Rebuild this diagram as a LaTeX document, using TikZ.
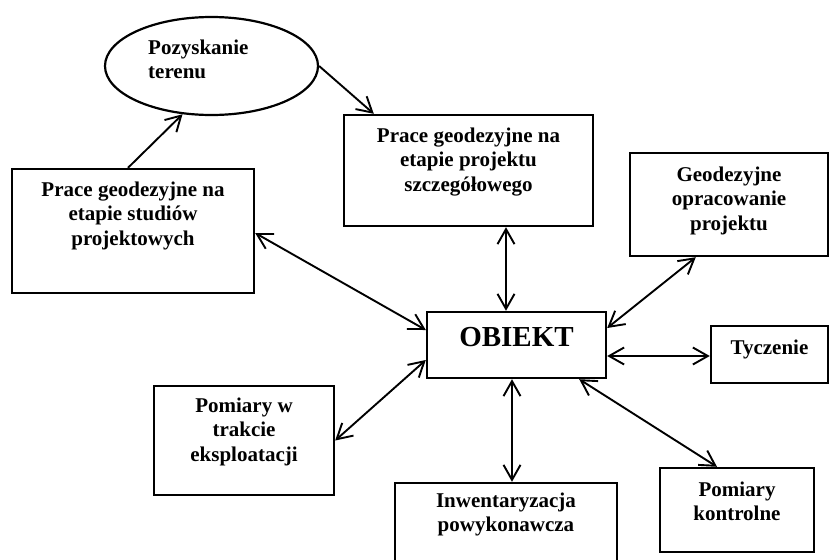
\documentclass[tikz,border=0pt]{standalone}
\usepackage{fontspec}
\setmainfont{Liberation Serif}
\usetikzlibrary{shapes.geometric, arrows.meta}

\begin{document}
\begin{tikzpicture}[
    x=1pt, y=-1pt,
    box/.style={draw, rectangle, line width=2.4pt, inner sep=0pt},
    bubble/.style={draw, ellipse, line width=2.2pt, inner sep=0pt, minimum width=213pt, minimum height=98pt},
    boxtext/.style={anchor=north, align=center, inner sep=0pt, font=\fontsize{21}{24.5}\selectfont\bfseries},
    bigtext/.style={boxtext, font=\fontsize{29}{34}\selectfont\bfseries},
    arrow/.style={-{Straight Barb[length=15pt, width=17pt]}, line width=1.9pt},
    biarrow/.style={{Straight Barb[length=15pt, width=17pt]}-{Straight Barb[length=15pt, width=17pt]}, line width=1.9pt}
]
    \useasboundingbox (0,0) rectangle (831,560);

    % Pozyskanie terenu
    \node[bubble, label={[boxtext, anchor=north west, align=left, xshift=-63.5pt, yshift=-23.8pt]north:{Pozyskanie\\terenu}}] (teren) at (211.5,66) {};

    % Studia projektowe
    \node[box, minimum width=242pt, minimum height=124pt, label={[boxtext, yshift=-13.8pt]north:{Prace geodezyjne na\\etapie studiów\\projektowych}}] (studia) at (133,231) {};

    % Projekt szczegolowy
    \node[box, minimum width=249pt, minimum height=111pt, label={[boxtext, yshift=-13.8pt]north:{Prace geodezyjne na\\etapie projektu\\szczegółowego}}] (szczeg) at (468.5,170.5) {};

    % Opracowanie projektu
    \node[box, minimum width=198pt, minimum height=103pt, label={[boxtext, yshift=-14.8pt]north:{Geodezyjne\\opracowanie\\projektu}}] (opracowanie) at (729,204.5) {};

    % Obiekt
    \node[box, minimum width=179pt, minimum height=66pt, label={[bigtext, yshift=-16.4pt]north:{OBIEKT}}] (obiekt) at (516.5,345) {};

    % Tyczenie
    \node[box, minimum width=117pt, minimum height=57pt, label={[boxtext, yshift=-14.8pt]north:{Tyczenie}}] (tyczenie) at (769.5,354.5) {};

    % Eksploatacja
    \node[box, minimum width=180pt, minimum height=109pt, label={[boxtext, yshift=-12.8pt]north:{Pomiary w\\trakcie\\eksploatacji}}] (eksploatacja) at (244,440.5) {};

    % Inwentaryzacja
    \node[box, minimum width=222pt, minimum height=92pt, label={[boxtext, yshift=-10.8pt]north:{Inwentaryzacja\\powykonawcza}}] (inwentaryzacja) at (506,529) {};

    % Pomiary kontrolne
    \node[box, minimum width=154pt, minimum height=84pt, label={[boxtext, yshift=-14.8pt]north:{Pomiary\\kontrolne}}] (kontrolne) at (737,510) {};

    % Arrows
    \draw[arrow] ([xshift=-5pt]studia.north) -- (teren.239);
    \draw[arrow] (teren.east) -- ([xshift=31pt]szczeg.north west);
    \draw[biarrow] ([yshift=-2pt]studia.east) -- ([yshift=15pt]obiekt.west);
    \draw[biarrow] ([xshift=-10.5pt]obiekt.north) -- ([xshift=-10.5pt]obiekt.north |- szczeg.south);
    \draw[biarrow] ([yshift=17pt]obiekt.east) -- ([xshift=67pt]opracowanie.south west);
    \draw[biarrow] ([yshift=-1.5pt]tyczenie.west -| obiekt.east) -- ([yshift=-1.5pt]tyczenie.west);
    \draw[biarrow] ([yshift=-15pt]obiekt.west) -- (eksploatacja.east);
    \draw[biarrow] ([xshift=-4.5pt]obiekt.south) -- ([xshift=-4.5pt]obiekt.south |- inwentaryzacja.north);
    \draw[biarrow] ([xshift=-28pt]obiekt.south east) -- ([xshift=-20pt]kontrolne.north);

\end{tikzpicture}
\end{document}
